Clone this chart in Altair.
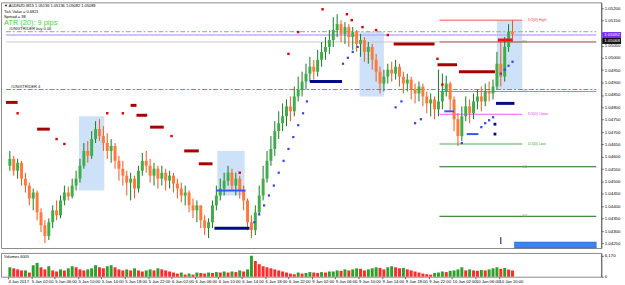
import json
import altair as alt
import pandas as pd

FONT = "Liberation Sans"

# ---------------- header / annotation texts ----------------
symbol_header = "\u25bc AUDNZD,M15  1.05136 1.05136 1.05082 1.05089"
tick_value_text = "Tick Value = 0.6821"
spread_text = "Spread = 38"
atr_text = "ATR (20): 9 pips"
order_buy_text = "#UNIXTRIDER buy 0.06"
order_text = "#UNIXTRIDER 4"
volume_title = "Volumes 6005"

# ---------------- candles (M15, prices in points = price * 1e5) ----------------
open_first = 104564
close_pts = [
    104592, 104544, 104576, 104512, 104484, 104432, 104456, 104376, 104324, 104280,
    104336, 104384, 104364, 104424, 104456, 104440, 104484, 104512, 104564, 104624,
    104604, 104672, 104712, 104684, 104656, 104624, 104644, 104584, 104552, 104524,
    104496, 104512, 104472, 104544, 104584, 104564, 104524, 104552, 104512, 104536,
    104504, 104524, 104492, 104472, 104444, 104456, 104404, 104384, 104404, 104344,
    104312, 104336, 104404, 104444, 104472, 104504, 104536, 104484, 104512, 104464,
    104424, 104336, 104304, 104376, 104444, 104512, 104584, 104632, 104704, 104736,
    104764, 104804, 104784, 104844, 104872, 104904, 104936, 104964, 104944, 104992,
    105024, 105044, 105072, 105112, 105136, 105096, 105124, 105084, 105104, 105056,
    105072, 105024, 105044, 104992, 104944, 104896, 104924, 104952, 104936, 104964,
    104924, 104896, 104912, 104872, 104856, 104884, 104844, 104816, 104832, 104792,
    104824, 104864, 104896, 104832, 104752, 104684, 104764, 104804, 104776, 104824,
    104844, 104824, 104864, 104856, 104884, 104976, 104924, 105044, 105104, 105096,
]
high_pts = [
    104624, 104604, 104592, 104584, 104536, 104496, 104472, 104464, 104392, 104344,
    104352, 104404, 104424, 104444, 104484, 104480, 104512, 104544, 104592, 104656,
    104664, 104704, 104744, 104752, 104724, 104696, 104672, 104656, 104604, 104584,
    104544, 104536, 104524, 104564, 104616, 104624, 104592, 104576, 104564, 104564,
    104552, 104544, 104536, 104512, 104496, 104484, 104464, 104432, 104424, 104404,
    104364, 104352, 104424, 104484, 104512, 104536, 104564, 104552, 104536, 104524,
    104484, 104432, 104364, 104404, 104484, 104564, 104624, 104684, 104744, 104784,
    104816, 104832, 104844, 104884, 104924, 104944, 104976, 105004, 104992, 105032,
    105064, 105084, 105112, 105164, 105176, 105152, 105144, 105136, 105124, 105112,
    105096, 105084, 105064, 105056, 105016, 104964, 104952, 104976, 104984, 104992,
    104976, 104944, 104936, 104924, 104896, 104904, 104896, 104864, 104856, 104844,
    104952, 104936, 104928, 104904, 104844, 104776, 104804, 104844, 104832, 104856,
    104872, 104884, 104896, 104904, 104912, 105024, 105064, 105084, 105136, 105152,
]
low_pts = [
    104544, 104524, 104512, 104484, 104456, 104404, 104384, 104344, 104296, 104252,
    104264, 104312, 104344, 104352, 104404, 104424, 104432, 104464, 104496, 104552,
    104576, 104592, 104656, 104664, 104624, 104592, 104576, 104552, 104504, 104484,
    104444, 104424, 104432, 104456, 104524, 104536, 104496, 104484, 104472, 104484,
    104464, 104472, 104456, 104432, 104416, 104404, 104376, 104352, 104336, 104312,
    104284, 104272, 104312, 104384, 104424, 104444, 104484, 104464, 104444, 104432,
    104384, 104304, 104272, 104284, 104364, 104424, 104496, 104564, 104604, 104672,
    104704, 104724, 104744, 104764, 104824, 104844, 104872, 104904, 104912, 104924,
    104964, 104992, 105016, 105044, 105084, 105064, 105056, 105044, 105032, 105024,
    105004, 104984, 104976, 104952, 104904, 104856, 104864, 104896, 104904, 104912,
    104884, 104856, 104864, 104832, 104816, 104824, 104804, 104776, 104764, 104752,
    104764, 104792, 104844, 104784, 104704, 104644, 104664, 104744, 104736, 104752,
    104792, 104784, 104804, 104824, 104832, 104872, 104884, 104904, 105024, 105064,
]
volume = [
    2780, 2470, 2160, 1850, 1850, 1230, 3390, 4070, 2780, 2160,
    3090, 1850, 1540, 2160, 1850, 2470, 3090, 2780, 2160, 1850,
    2160, 2470, 3390, 2780, 2470, 3090, 3390, 2780, 2160, 1850,
    2160, 1850, 2470, 1850, 1540, 1850, 2160, 1850, 2470, 2160,
    1850, 1540, 1230, 930, 1230, 620, 930, 620, 1230, 1110,
    930, 1230, 1110, 1360, 1230, 1540, 1230, 1540, 1360, 1850,
    1540, 2160, 6170, 4630, 3700, 3090, 2780, 2470, 2160, 1850,
    1540, 1230, 930, 740, 1230, 930, 1110, 1360, 1230, 1110,
    1360, 1230, 1540, 1540, 1850, 1730, 2160, 1850, 2160, 2470,
    2340, 1850, 2160, 2470, 2780, 2590, 2160, 2780, 3090, 2780,
    2470, 2590, 2160, 1850, 1540, 1230, 930, 740, 620, 1110,
    1230, 1540, 1360, 1730, 1850, 2160, 2780, 1850, 2160, 1850,
    1730, 1970, 1850, 2160, 2470, 2780, 2340, 2590, 2160, 1850,
]
volume_tick = 6170

# ---------------- axes ----------------
price_ticks = [1.04250, 1.04300, 1.04350, 1.04400, 1.04450, 1.04500, 1.04550,
               1.04600, 1.04650, 1.04700, 1.04750, 1.04800, 1.04850, 1.04900,
               1.04950, 1.05000, 1.05050, 1.05100, 1.05150, 1.05200]
time_labels = ["4 Jan 2017", "5 Jan 02:00", "5 Jan 06:00", "5 Jan 10:00", "5 Jan 14:00",
               "5 Jan 18:00", "5 Jan 22:00", "6 Jan 02:00", "6 Jan 06:00", "6 Jan 10:00",
               "6 Jan 14:00", "6 Jan 18:00", "6 Jan 22:00", "9 Jan 02:00", "9 Jan 06:00",
               "9 Jan 10:00", "9 Jan 14:00", "9 Jan 18:00", "9 Jan 22:00", "10 Jan 02:00",
               "10 Jan 06:00", "10 Jan 10:00"]
time_label_bar = [-0.5, 5.5, 11.5, 17.5, 23.5, 29.5, 35.5, 41.5, 47.5, 53.5, 59.5,
                  65.5, 71.5, 77.5, 83.5, 89.5, 95.5, 101.5, 107.5, 113.5, 119.5, 125.5]

# ---------------- session boxes ----------------
box_start = [17.75, 53.25, 89.75, 125.0]
box_end = [24.25, 60.25, 96.0, 131.5]
box_top = [1.04764, 1.04624, 1.05104, 1.05152]
box_bottom = [1.04464, 1.04444, 1.04844, 1.04872]

# ---------------- daily levels ----------------
level_names = ["D1[0] High", "R1", "PP", "D1[0] Open", "D1[0] Low", "S1", "S2"]
level_prices = [1.05152, 1.05064, 1.04864, 1.04772, 1.04652, 1.04560, 1.04360]
level_start = 110.25
level_end = [131.5, 150.5, 150.5, 131.5, 131.5, 150.5, 150.5]
level_line_colors = ["#ff5050", "#a33a3a", "#ff55dd", "#ff55ff", "#4caf50", "#0b6e0b", "#0b6e0b"]
level_text_colors = ["#ff4040", "#6aa86a", "#ff77cc", "#ee44ee", "#3f9f3f", "#6aa86a", "#6aa86a"]
level_label_bar = [133.0, 131.5, 131.5, 133.0, 133.0, 131.5, 131.5]

order_buy_price = 1.05106
bid_price = 1.05092
ask_label_price = 1.05068
order_price = 1.04872
grey_line_price = 1.05064
bottom_bar = [129.5, 150.5, 1.04256, 1.04232]
marker_bar = [126.0, 1.04276, 1.04248]

# ---------------- trailing-stop indicator ----------------
red_dash_start = [-1.0, 7.0, 31.0, 32.5, 36.0, 44.75, 48.5, 98.5, 109.75, 115.25]
red_dash_end = [2.0, 10.25, 32.5, 35.25, 39.5, 48.5, 52.0, 109.0, 114.75, 124.5]
red_dash_price = [1.04820, 1.04712, 1.04808, 1.04768, 1.04720, 1.04624, 1.04572,
                  1.05056, 1.04972, 1.04944]
bright_dash = [125.25, 129.0, 1.05072]
red_dot_bar = [2, 12, 14, 25, 29, 41.5, 59, 71.5, 74, 80.25, 86.5, 87.75, 90.5, 94, 97,
               109.75, 111]
red_dot_price = [1.04776, 1.04672, 1.04652, 1.04776, 1.04776, 1.04684, 1.04536, 1.05016,
                 1.05104, 1.05196, 1.05176, 1.05152, 1.05124, 1.05112, 1.05092,
                 1.04996, 1.04892]
navy_dash_start = [52.5, 77.0, 124.75]
navy_dash_end = [61.5, 85.25, 129.5]
navy_dash_price = [1.04312, 1.04904, 1.04816]
blue_dash_start = [53.0, 111.5, 117.25]
blue_dash_end = [60.5, 114.0, 120.25]
blue_dash_price = [1.04464, 1.04784, 1.04692]
blue_dot_bar = [62.75, 64, 65.25, 66.5, 67.75, 69, 70.25, 71.5, 72.75, 74, 75.25, 76.25,
                85.5, 86.75, 88, 89.25, 99, 100.5, 104, 105.5, 116, 121, 122, 123, 124,
                126, 127, 128, 129]
blue_dot_price = [1.04336, 1.04368, 1.04404, 1.04444, 1.04484, 1.04536, 1.04584, 1.04632,
                  1.04680, 1.04728, 1.04776, 1.04824, 1.04976, 1.05000, 1.05024, 1.05044,
                  1.04800, 1.04824, 1.04736, 1.04752, 1.04656, 1.04720, 1.04736, 1.04748,
                  1.04760, 1.04936, 1.04952, 1.04968, 1.04984]
navy_dot_bar = [124.5, 124.5]
navy_dot_price = [1.04732, 1.04692]

# ---------------- build tables ----------------
n = len(close_pts)
opens = [open_first] + close_pts[:-1]
cdf = pd.DataFrame({
    "i": list(range(n)),
    "open": [v / 1e5 for v in opens],
    "close": [v / 1e5 for v in close_pts],
    "high": [v / 1e5 for v in high_pts],
    "low": [v / 1e5 for v in low_pts],
})
up = cdf["close"] >= cdf["open"]
cdf["body_c"] = ["#3fae49" if u else "#ff7a3a" for u in up]
cdf["wick_c"] = ["#137a1f" if u else "#f0561c" for u in up]

vol_colors = ["#2ca02c"] + ["#2ca02c" if volume[k] >= volume[k - 1] else "#ff2a2a"
                            for k in range(1, len(volume))]
vdf = pd.DataFrame({"i": list(range(len(volume))), "v": volume, "c": vol_colors})

xs = alt.Scale(domain=[-1, 150.5], nice=False, zero=False)
ys = alt.Scale(domain=[1.04232, 1.05224], nice=False, zero=False)
yaxis = alt.Axis(orient="right", values=price_ticks, format=".5f", title=None, grid=False,
                 labelFontSize=4.4, labelFont=FONT, labelColor="#000000", labelPadding=1,
                 tickSize=2, tickColor="#606060", domainColor="#606060",
                 labelOverlap=False, labelFlush=False)


def X(f):
    return alt.X(f, type="quantitative", scale=xs, axis=None)


def Y(f):
    return alt.Y(f, type="quantitative", scale=ys, axis=yaxis)


def hline(price, x0, x1, color, width=1.0, dash=None):
    d = pd.DataFrame({"x0": [x0], "x1": [x1], "p": [price]})
    kw = dict(strokeWidth=width, stroke=color, color=color, opacity=1)
    if dash:
        kw["strokeDash"] = dash
    return alt.Chart(d).mark_rule(**kw).encode(x=X("x0"), x2="x1", y=Y("p"))


box_df = pd.DataFrame({"x0": box_start, "x1": box_end, "top": box_top, "bot": box_bottom})
boxes = alt.Chart(box_df).mark_rect(color="#cde2f8").encode(
    x=X("x0"), x2="x1", y=Y("top"), y2="bot")

lvl_df = pd.DataFrame({"name": level_names, "p": level_prices,
                       "x0": [level_start] * len(level_names), "x1": level_end,
                       "c": level_line_colors, "tc": level_text_colors,
                       "lx": level_label_bar})
levels = alt.Chart(lvl_df).mark_rule(strokeWidth=1).encode(
    x=X("x0"), x2="x1", y=Y("p"), color=alt.Color("c:N", scale=None))
level_text = alt.Chart(lvl_df).mark_text(align="left", baseline="middle", fontSize=4,
                                         font=FONT).encode(
    x=X("lx"), y=Y("p"), text="name:N", color=alt.Color("tc:N", scale=None))

grey_line = hline(grey_line_price, -1.0, level_start, "#c8c8c8")
bid_line = hline(bid_price, -1.0, 150.5, "#c9a8ff", width=1.5)
buy_line = hline(order_buy_price, -1.0, 150.5, "#9cc09c", width=1.2, dash=[5, 2, 2, 2])
order_line = hline(order_price, -1.0, 150.5, "#ff5a3c", width=1.2, dash=[5, 2, 2, 2])

wicks = alt.Chart(cdf).mark_rule(strokeWidth=1).encode(
    x=X("i"), y=Y("low"), y2="high", color=alt.Color("wick_c:N", scale=None))
bodies = alt.Chart(cdf).mark_bar(size=3).encode(
    x=X("i"), y=Y("open"), y2="close", color=alt.Color("body_c:N", scale=None))

rd_df = pd.DataFrame({"x0": red_dash_start, "x1": red_dash_end, "p": red_dash_price})
red_dashes = alt.Chart(rd_df).mark_rule(strokeWidth=3, color="#a80000").encode(
    x=X("x0"), x2="x1", y=Y("p"))
bright_dashes = hline(bright_dash[2], bright_dash[0], bright_dash[1], "#ff1010", width=3)
nd_df = pd.DataFrame({"x0": navy_dash_start, "x1": navy_dash_end, "p": navy_dash_price})
navy_dashes = alt.Chart(nd_df).mark_rule(strokeWidth=3, color="#000c8a").encode(
    x=X("x0"), x2="x1", y=Y("p"))
bl_df = pd.DataFrame({"x0": blue_dash_start, "x1": blue_dash_end, "p": blue_dash_price})
blue_dashes = alt.Chart(bl_df).mark_rule(strokeWidth=2, color="#3a55ff").encode(
    x=X("x0"), x2="x1", y=Y("p"))

rdot_df = pd.DataFrame({"x": red_dot_bar, "p": red_dot_price})
red_dots = alt.Chart(rdot_df).mark_square(size=6, color="#e00000", opacity=1).encode(
    x=X("x"), y=Y("p"))
bdot_df = pd.DataFrame({"x": blue_dot_bar, "p": blue_dot_price})
blue_dots = alt.Chart(bdot_df).mark_square(size=5, color="#3344ee", opacity=1).encode(
    x=X("x"), y=Y("p"))
ndot_df = pd.DataFrame({"x": navy_dot_bar, "p": navy_dot_price})
navy_dots = alt.Chart(ndot_df).mark_square(size=8, color="#000c8a", opacity=1).encode(
    x=X("x"), y=Y("p"))

bb_df = pd.DataFrame({"x0": [bottom_bar[0]], "x1": [bottom_bar[1]],
                      "top": [bottom_bar[2]], "bot": [bottom_bar[3]]})
bottom_rect = alt.Chart(bb_df).mark_rect(color="#3a86ea", stroke="#1f5fc0",
                                         strokeWidth=0.5).encode(
    x=X("x0"), x2="x1", y=Y("top"), y2="bot")
mk_df = pd.DataFrame({"x": [marker_bar[0]], "top": [marker_bar[1]], "bot": [marker_bar[2]]})
marker = alt.Chart(mk_df).mark_rule(strokeWidth=1, color="#000c8a").encode(
    x=X("x"), y=Y("top"), y2="bot")

# price boxes on the right axis
pb_df = pd.DataFrame({"p": [bid_price, ask_label_price],
                      "t": [f"{bid_price:.5f}", f"{ask_label_price:.5f}"],
                      "c": ["#7b2cf2", "#111111"]})
price_boxes = alt.Chart(pb_df).mark_rule(strokeWidth=6).encode(
    x=alt.value(607), x2=alt.value(626), y=Y("p"), color=alt.Color("c:N", scale=None))
price_box_text = alt.Chart(pb_df).mark_text(align="left", baseline="middle", fontSize=4.4,
                                            font=FONT, color="white").encode(
    x=alt.value(609), y=Y("p"), text="t:N")

# header texts
hdr_df = pd.DataFrame({"t": [symbol_header, tick_value_text, spread_text],
                       "yy": [4, 9.5, 14.5]})
header = alt.Chart(hdr_df).mark_text(align="left", baseline="middle", fontSize=4,
                                     font=FONT, color="#000000").encode(
    x=alt.value(3), y=alt.Y("yy:Q", scale=None), text="t:N")
atr = alt.Chart(pd.DataFrame({"t": [atr_text]})).mark_text(
    align="left", baseline="middle", fontSize=7.5, font=FONT, color="#3ad63a").encode(
    x=alt.value(3), y=alt.value(21), text="t:N")
ord_df = pd.DataFrame({"t": [order_buy_text, order_text],
                       "p": [order_buy_price, order_price], "x": [-0.3, 0.2]})
order_labels = alt.Chart(ord_df).mark_text(align="left", baseline="bottom", fontSize=4,
                                           font=FONT, color="#222222", dy=-0.5).encode(
    x=X("x"), y=Y("p"), text="t:N")

main = alt.layer(
    boxes, grey_line, bid_line, buy_line, order_line, levels, wicks, bodies,
    red_dashes, bright_dashes, navy_dashes, blue_dashes, red_dots, blue_dots, navy_dots,
    bottom_rect, marker, level_text, price_boxes, price_box_text, header, atr, order_labels,
).properties(width=606, height=248)

# ---------------- volume panel ----------------
label_expr = f"{json.dumps(time_labels)}[indexof({json.dumps(time_label_bar)}, datum.value)]"
xaxis = alt.Axis(values=time_label_bar, labelExpr=label_expr, title=None, grid=False,
                 labelAlign="left", labelFontSize=4.2, labelFont=FONT, labelColor="#000000",
                 labelPadding=1, tickSize=2, tickColor="#606060", domain=False,
                 labelOverlap=False, labelFlush=False)
vol_bars = alt.Chart(vdf).mark_bar(size=3).encode(
    x=alt.X("i:Q", scale=xs, axis=xaxis),
    y=alt.Y("v:Q", scale=alt.Scale(domain=[0, 7000], nice=False),
            axis=alt.Axis(orient="right", values=[0, volume_tick], title=None, grid=False,
                          labelFontSize=4.4, labelFont=FONT, labelColor="#000000",
                          labelPadding=1, tickSize=2, tickColor="#606060",
                          domainColor="#606060", labelFlush=False)),
    color=alt.Color("c:N", scale=None))
vol_title = alt.Chart(pd.DataFrame({"t": [volume_title]})).mark_text(
    align="left", baseline="middle", fontSize=4, font=FONT, color="#000000").encode(
    x=alt.value(3), y=alt.value(4), text="t:N")
vol = alt.layer(vol_bars, vol_title).properties(width=606, height=24)

chart = alt.vconcat(main, vol, spacing=3).properties(
    padding={"left": 0, "right": 0, "top": 0, "bottom": 0}, background="white"
).configure_view(stroke="#8a8a8a", strokeWidth=1)

chart.save("out.html", embed_options={"renderer": "svg", "actions": False})
